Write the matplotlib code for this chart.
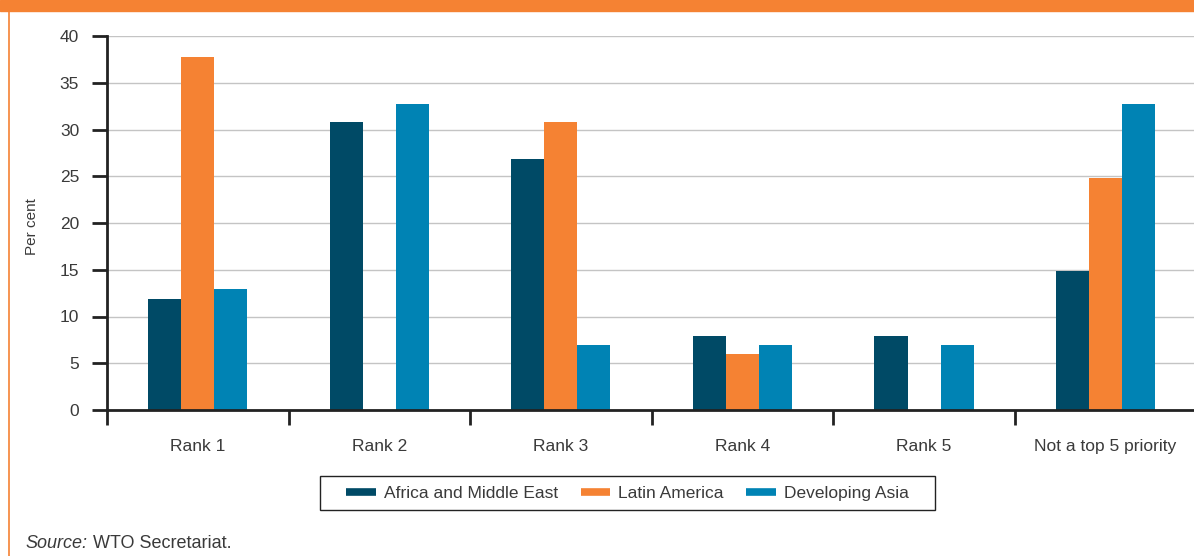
import numpy as np
import matplotlib.pyplot as plt
from matplotlib.lines import Line2D
from matplotlib.patches import Rectangle

plt.rcParams['font.family'] = ['Liberation Sans', 'DejaVu Sans']

categories = ['Rank 1', 'Rank 2', 'Rank 3', 'Rank 4', 'Rank 5', 'Not a top 5 priority']
series_names = ['Africa and Middle East', 'Latin America', 'Developing Asia']
africa = [11.9, 30.8, 26.8, 7.9, 7.9, 14.9]
latin = [37.8, 0, 30.8, 6.0, 0, 24.8]
asia = [12.9, 32.7, 7.0, 7.0, 7.0, 32.7]
colors = ['#004a66', '#f58233', '#0083b4']
yticks = [0, 5, 10, 15, 20, 25, 30, 35, 40]

fig = plt.figure(figsize=(11.94, 5.56), dpi=100)
ax = fig.add_axes([107 / 1194, 1 - 410 / 556, 1 - 107 / 1194 + 0.002, (410 - 36) / 556])

x = np.arange(len(categories))
w = 0.182
for i, (vals, c) in enumerate(zip([africa, latin, asia], colors)):
    ax.bar(x + (i - 1) * w, vals, width=w, color=c, zorder=3)

ax.set_xlim(-0.5, len(categories) - 0.5)
ax.set_ylim(0, 40)
ax.set_yticks(yticks)
ax.set_yticklabels([str(v) for v in yticks], fontsize=12.5, color='#3a3a3a')
ax.set_xticks(np.arange(len(categories) + 1) - 0.5)
ax.set_xticklabels([])
ax.set_xticks(x, minor=True)
ax.set_xticklabels(categories, minor=True, fontsize=12.5, color='#3a3a3a')
ax.tick_params(axis='x', which='major', length=11, width=2, color='#222222', direction='out')
ax.tick_params(axis='x', which='minor', length=0, pad=21)
ax.tick_params(axis='y', length=11, width=2, color='#222222', pad=9)
ax.yaxis.grid(True, color='#c4c4c4', lw=1, zorder=0)
ax.set_axisbelow(True)
for s in ['top', 'right']:
    ax.spines[s].set_visible(False)
for s in ['left', 'bottom']:
    ax.spines[s].set_color('#222222')
    ax.spines[s].set_linewidth(2)
ax.spines['bottom'].set_zorder(4)

fig.text(32 / 1194, 1 - 227 / 556, 'Per cent', fontsize=11, color='#3a3a3a',
         rotation=90, ha='center', va='center')

# legend without its own frame, box drawn by hand
handles = [Line2D([0], [0], color=c, lw=5.5, solid_capstyle='butt') for c in colors]
leg = fig.legend(handles, series_names, loc='center', bbox_to_anchor=(627.5 / 1194, 1 - 493 / 556),
                 ncol=3, frameon=False, fontsize=12.5, handlelength=1.7,
                 columnspacing=1.3, handletextpad=0.46)
for t in leg.get_texts():
    t.set_color('#3a3a3a')
fig.patches.append(Rectangle((320 / 1194, 1 - 510 / 556), 615 / 1194, 34 / 556,
                             transform=fig.transFigure, fill=False, edgecolor='#222222', lw=1))

# orange frame bits
fig.patches.append(Rectangle((0, 1 - 11 / 556), 1, 11 / 556, transform=fig.transFigure,
                             color='#f58233', zorder=0))
fig.lines.append(Line2D([8.5 / 1194, 8.5 / 1194], [0, 1], transform=fig.transFigure,
                        color='#f58233', lw=1.2))

t1 = fig.text(25 / 1194, 1 - 543 / 556, 'Source:', fontsize=13, style='italic',
              color='#3a3a3a', va='center')
fig.canvas.draw()
bb = t1.get_window_extent()
fig.text((bb.x1 + 6) / 1194, 1 - 543 / 556, 'WTO Secretariat.', fontsize=13,
         color='#3a3a3a', va='center')

fig.savefig('out.png', dpi=100)
